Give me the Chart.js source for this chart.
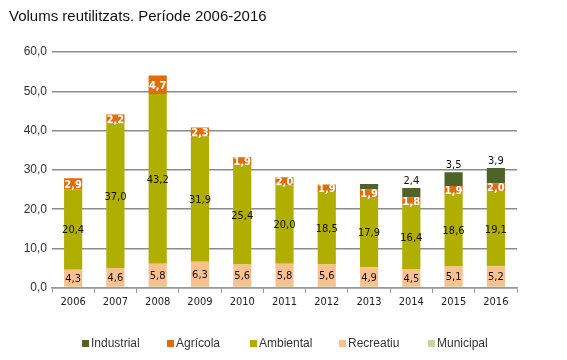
<!DOCTYPE html>
<html>
<head>
<meta charset="utf-8">
<script src="https://cdn.jsdelivr.net/npm/chart.js@4"></script>
<style>
  body { margin: 0; background: #fff; }
  #wrap { position: relative; width: 567px; height: 360px; }
  #title { position: absolute; left: 9px; top: 7px; font: 15px "Liberation Sans", Arial, sans-serif; color: #111; }
  .leg { position: absolute; top: 336px; font: 12px "Liberation Sans", Arial, sans-serif; color: #333; white-space: nowrap; }
  .leg i { display: inline-block; width: 7px; height: 7px; margin-right: 2px; vertical-align: 0px; }
</style>
</head>
<body>
<div id="wrap">
  <div id="title">Volums reutilitzats. Període 2006-2016</div>
  <canvas id="chart" width="567" height="360"></canvas>
</div>
<script>
const years = ["2006","2007","2008","2009","2010","2011","2012","2013","2014","2015","2016"];
const industrial = [0, 0, 0, 0, 0, 0, 0, 1.4, 2.4, 3.5, 3.9];
const agricola = [2.9, 2.2, 4.7, 2.3, 1.9, 2.0, 1.9, 1.9, 1.8, 1.9, 2.0];
const ambiental = [20.4, 37.0, 43.2, 31.9, 25.4, 20.0, 18.5, 17.9, 16.4, 18.6, 19.1];
const recreatiu = [4.3, 4.6, 5.8, 6.3, 5.6, 5.8, 5.6, 4.9, 4.5, 5.1, 5.2];
const municipal = [0.3, 0.3, 0.3, 0.3, 0.3, 0.3, 0.3, 0.3, 0.3, 0.3, 0.3];
const yTicks = [0, 10, 20, 30, 40, 50, 60];

const narrow = '"DejaVu Sans Condensed", "Liberation Sans Narrow", Arial, sans-serif';
const fmt = v => v.toFixed(1).replace(".", ",");

// labels drawn by hand (no datalabels plugin available)
const labelPlugin = {
  id: "segLabels",
  afterDatasetsDraw(chart) {
    const ctx = chart.ctx;
    ctx.save();
    ctx.textAlign = "center";
    ctx.textBaseline = "middle";
    chart.data.datasets.forEach((ds, i) => {
      if (!ds.showLabel) return;
      chart.getDatasetMeta(i).data.forEach((bar, j) => {
        const v = ds.data[j];
        if (!v) return;
        if (ds.label === "Industrial" && j < 8) return;
        let y = (bar.y + bar.base) / 2;
        if (ds.label === "Industrial") y = bar.y - 8;
        ctx.fillStyle = ds.labelColor;
        ctx.font = (ds.labelBold ? "bold " : "") + "11px " + narrow;
        ctx.fillText(fmt(v), bar.x, y + 1);
      });
    });
    ctx.restore();
  }
};

// stacked bottom -> top
const chart = new Chart(document.getElementById("chart"), {
  type: "bar",
  data: {
    labels: years,
    datasets: [
      { label: "Municipal", data: municipal, backgroundColor: "#c3d69b" },
      { label: "Recreatiu", data: recreatiu, backgroundColor: "#fac090", showLabel: true, labelColor: "#111" },
      { label: "Ambiental", data: ambiental, backgroundColor: "#b0ae00", showLabel: true, labelColor: "#111" },
      { label: "Agrícola", data: agricola, backgroundColor: "#e36c0a", showLabel: true, labelColor: "#fff", labelBold: true },
      { label: "Industrial", data: industrial, backgroundColor: "#4f6228", showLabel: true, labelColor: "#111" }
    ]
  },
  options: {
    responsive: false,
    animation: false,
    layout: { padding: { left: 0, right: 50, top: 52, bottom: 48 } },
    datasets: { bar: { barPercentage: 0.43, categoryPercentage: 1 } },
    scales: {
      x: {
        stacked: true,
        grid: { display: true, drawOnChartArea: false, offset: true, color: "#999", tickLength: 5 },
        border: { color: "#999", width: 1.5 },
        ticks: { color: "#222", font: { family: narrow, size: 11 }, padding: 3 }
      },
      y: {
        stacked: true,
        min: 0,
        max: 60,
        afterFit: s => { s.width = 52; },
        afterBuildTicks: s => { s.ticks = yTicks.map(v => ({ value: v })); },
        grid: { color: "#8c8c8c", lineWidth: 1.5, drawTicks: false },
        border: { display: false },
        ticks: { color: "#333", font: { family: '"Liberation Sans", Arial, sans-serif', size: 12 }, padding: 5, callback: v => fmt(v) }
      }
    },
    plugins: {
      legend: { display: false },
      tooltip: { enabled: false }
    }
  },
  plugins: [labelPlugin]
});

// legend in reference order (top of stack first)
const legX = [82, 167, 250, 339, 428];
chart.data.datasets.slice().reverse().forEach((ds, i) => {
  const el = document.createElement("div");
  el.className = "leg";
  el.style.left = legX[i] + "px";
  el.innerHTML = '<i style="background:' + ds.backgroundColor + '"></i>' + ds.label;
  document.getElementById("wrap").appendChild(el);
});
</script>
</body>
</html>
